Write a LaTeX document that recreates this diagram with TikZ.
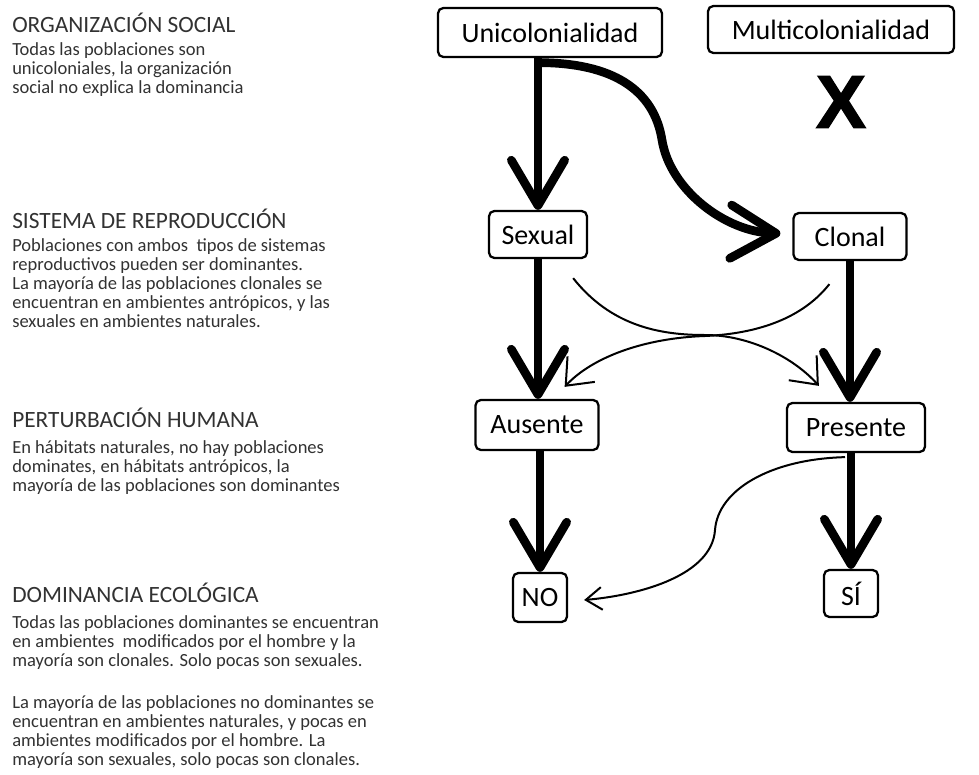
\documentclass[tikz,border=0pt]{standalone}
\usepackage{fontspec}
\setmainfont{Carlito}
\newfontfamily\crossfont{Liberation Sans}[BoldFeatures={FakeBold=2}]
\usetikzlibrary{arrows.meta,calc}
\definecolor{notegray}{RGB}{50,50,50}
\tikzset{
  heading/.style={anchor=base west,inner sep=0pt,text=notegray,
    font=\fontsize{17.5}{18}\selectfont},
  % multi-line notes: the base anchor sits on the last line
  note/.style={anchor=base west,inner sep=0pt,align=left,text=notegray,
    font=\fontsize{13.9}{14.2}\selectfont},
  state/.style={draw,rounded corners=4pt,line width=1.7pt,inner sep=0pt,
    font=\fontsize{21}{24}\selectfont},
  main/.style={line width=6.5pt,-{Straight Barb[length=34pt,width=40pt,round]}},
  side/.style={line width=1.5pt,-{Straight Barb[length=17pt,width=28pt]}},
  sidesmall/.style={line width=1.5pt,-{Straight Barb[length=12pt,width=17pt]}},
}
\begin{document}
\begin{tikzpicture}[x=0.75pt,y=-0.75pt]
\fill[white] (0,0) rectangle (979,775);
\useasboundingbox (0,0) rectangle (979,775);

% ---- explanatory notes on the left ----
\node[heading] (h1) at (12,32) {ORGANIZACIÓN SOCIAL};
\node[note] (n1) at (12,93) {Todas las poblaciones son\\unicoloniales, la organización\\social no explica la dominancia};

\node[heading] (h2) at (12,228) {SISTEMA DE REPRODUCCIÓN};
\node[note] (n2) at (12,327) {Poblaciones con ambos\ \ tipos de sistemas\\reproductivos pueden ser dominantes.\\La mayoría de las poblaciones clonales se\\encuentran en ambientes antrópicos, y las\\sexuales en ambientes naturales.};

\node[heading] (h3) at (12,427) {PERTURBACIÓN HUMANA};
\node[note] (n3) at (12,491) {En hábitats naturales, no hay poblaciones\\dominates, en hábitats antrópicos, la\\mayoría de las poblaciones son dominantes};

\node[heading] (h4) at (12,602) {DOMINANCIA ECOLÓGICA};
\node[note] (n4) at (12,666) {Todas las poblaciones dominantes se encuentran\\en ambientes\ \ modificados por el hombre y la\\mayoría son clonales. Solo pocas son sexuales.};
\node[note] (n5) at (12,765) {La mayoría de las poblaciones no dominantes se\\encuentran en ambientes naturales, y pocas en\\ambientes modificados por el hombre. La\\mayoría son sexuales, solo pocas son clonales.};

% ---- decision diagram ----
\node[state,minimum width=168pt,minimum height=36.75pt] (uni) at (550,32.5) {Unicolonialidad};
\node[state,minimum width=184.5pt,minimum height=35.25pt] (multi) at (831,29.5) {Multicolonialidad};
\node[inner sep=0pt,font=\crossfont\bfseries\fontsize{56}{56}\selectfont] (cross) at (841,102) {X};

\node[state,minimum width=73.5pt,minimum height=35.25pt] (sex) at (538,234.5) {Sexual};
\node[state,minimum width=84.75pt,minimum height=35.25pt] (clo) at (850,236.5) {Clonal};
\node[state,minimum width=92.25pt,minimum height=37.5pt] (aus) at (537,425) {Ausente};
\node[state,minimum width=103.5pt,minimum height=36.75pt] (pre) at (856,427.5) {Presente};
\node[state,minimum width=40.5pt,minimum height=36.75pt] (no) at (540,597.5) {NO};
\node[state,minimum width=40.5pt,minimum height=35.25pt] (si) at (851,593.5) {SÍ};

% main vertical flow
\draw[main] (sex.north |- uni.south) -- (sex.north);
\draw[main] (sex.south) -- (sex.south |- aus.north);
\draw[main] (no.north |- aus.south) -- (no.north);
\draw[main] (clo.south) -- (clo.south |- pre.north);
\draw[main] (si.north |- pre.south) -- (si.north);

% branch from Unicolonialidad to Clonal
\coordinate (fork) at ($(sex.north |- uni.south)+(0,4.5)$);
\coordinate (cloIn) at ($(clo.west)+(-12,-3)$);
\draw[main] (fork) .. controls +(75,0) and +(-8,-50) .. (662,140)
  .. controls +(8,50) and +(-55,-2) .. (cloIn);

% crossing links between the reproduction types and disturbance
\coordinate (sexOut) at ($(sex.south east)+(-15,19)$);
\coordinate (preIn) at ($(pre.north west)+(33,-16)$);
\draw[side] (sexOut) .. controls +(38,48) and +(-45,0) .. (705,335)
  .. controls +(45,0) and +(-25,-28) .. (preIn);

\coordinate (cloOut) at ($(clo.south west)+(37,23)$);
\coordinate (ausIn) at ($(aus.north east)+(-35,-12)$);
\draw[side] (cloOut) .. controls +(-30,38) and +(45,-2) .. (705,336)
  .. controls +(-60,2) and +(28,-30) .. (ausIn);

% link from Presente back to NO
\coordinate (preOut) at ($(pre.south)+(-11,4)$);
\coordinate (noIn) at ($(no.east)+(16,2.5)$);
\draw[sidesmall] (preOut) .. controls +(-75,2) and +(3,-40) .. (715,530)
  .. controls +(-3,45) and +(57,-5) .. (noIn);
\end{tikzpicture}
\end{document}
